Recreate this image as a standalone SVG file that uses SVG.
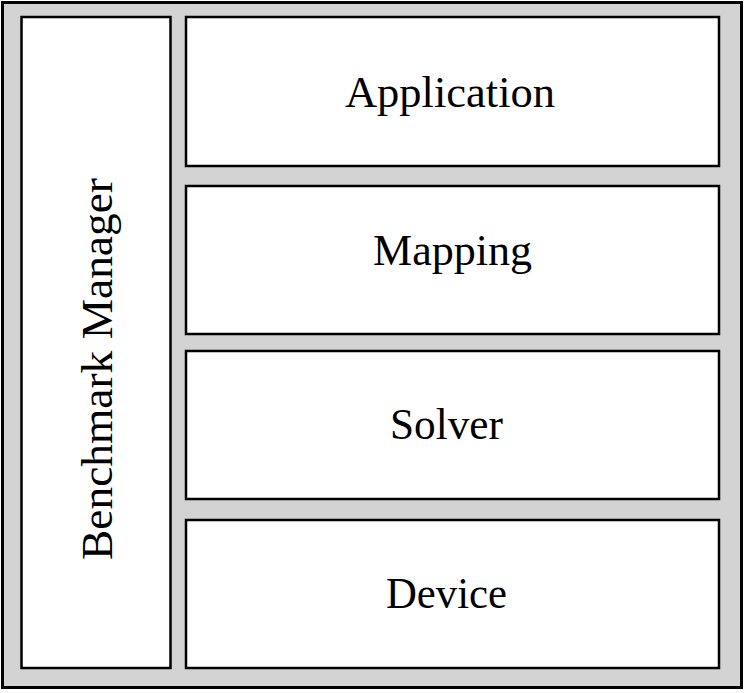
<svg xmlns="http://www.w3.org/2000/svg" width="747" height="693" viewBox="0 0 747 693">
<style>
.frame{fill:#d3d3d3;stroke:#000;stroke-width:3}
.box{fill:#fff;stroke:#000;stroke-width:2.5}
.lbl{font-family:"Liberation Serif","Times New Roman",serif;font-size:44px;fill:#000;text-anchor:middle}
</style>
<rect class="frame" x="2.5" y="2.5" width="739" height="685"/>
<g id="benchmark-manager">
<rect class="box" x="21.5" y="17" width="149" height="651"/>
<text class="lbl" transform="translate(111.5,369) rotate(-90)" textLength="382" lengthAdjust="spacingAndGlyphs">Benchmark Manager</text>
</g>
<g id="application">
<rect class="box" x="186" y="17" width="533" height="149"/>
<text class="lbl" x="450" y="106.5" textLength="210" lengthAdjust="spacingAndGlyphs">Application</text>
</g>
<g id="mapping">
<rect class="box" x="186" y="186" width="533" height="148"/>
<text class="lbl" x="452.5" y="265" textLength="159" lengthAdjust="spacingAndGlyphs">Mapping</text>
</g>
<g id="solver">
<rect class="box" x="186" y="351" width="533" height="148"/>
<text class="lbl" x="446.5" y="439" textLength="113" lengthAdjust="spacingAndGlyphs">Solver</text>
</g>
<g id="device">
<rect class="box" x="186" y="520" width="533" height="148"/>
<text class="lbl" x="446.5" y="608" textLength="121" lengthAdjust="spacingAndGlyphs">Device</text>
</g>
<g id="connectors"/>
</svg>
